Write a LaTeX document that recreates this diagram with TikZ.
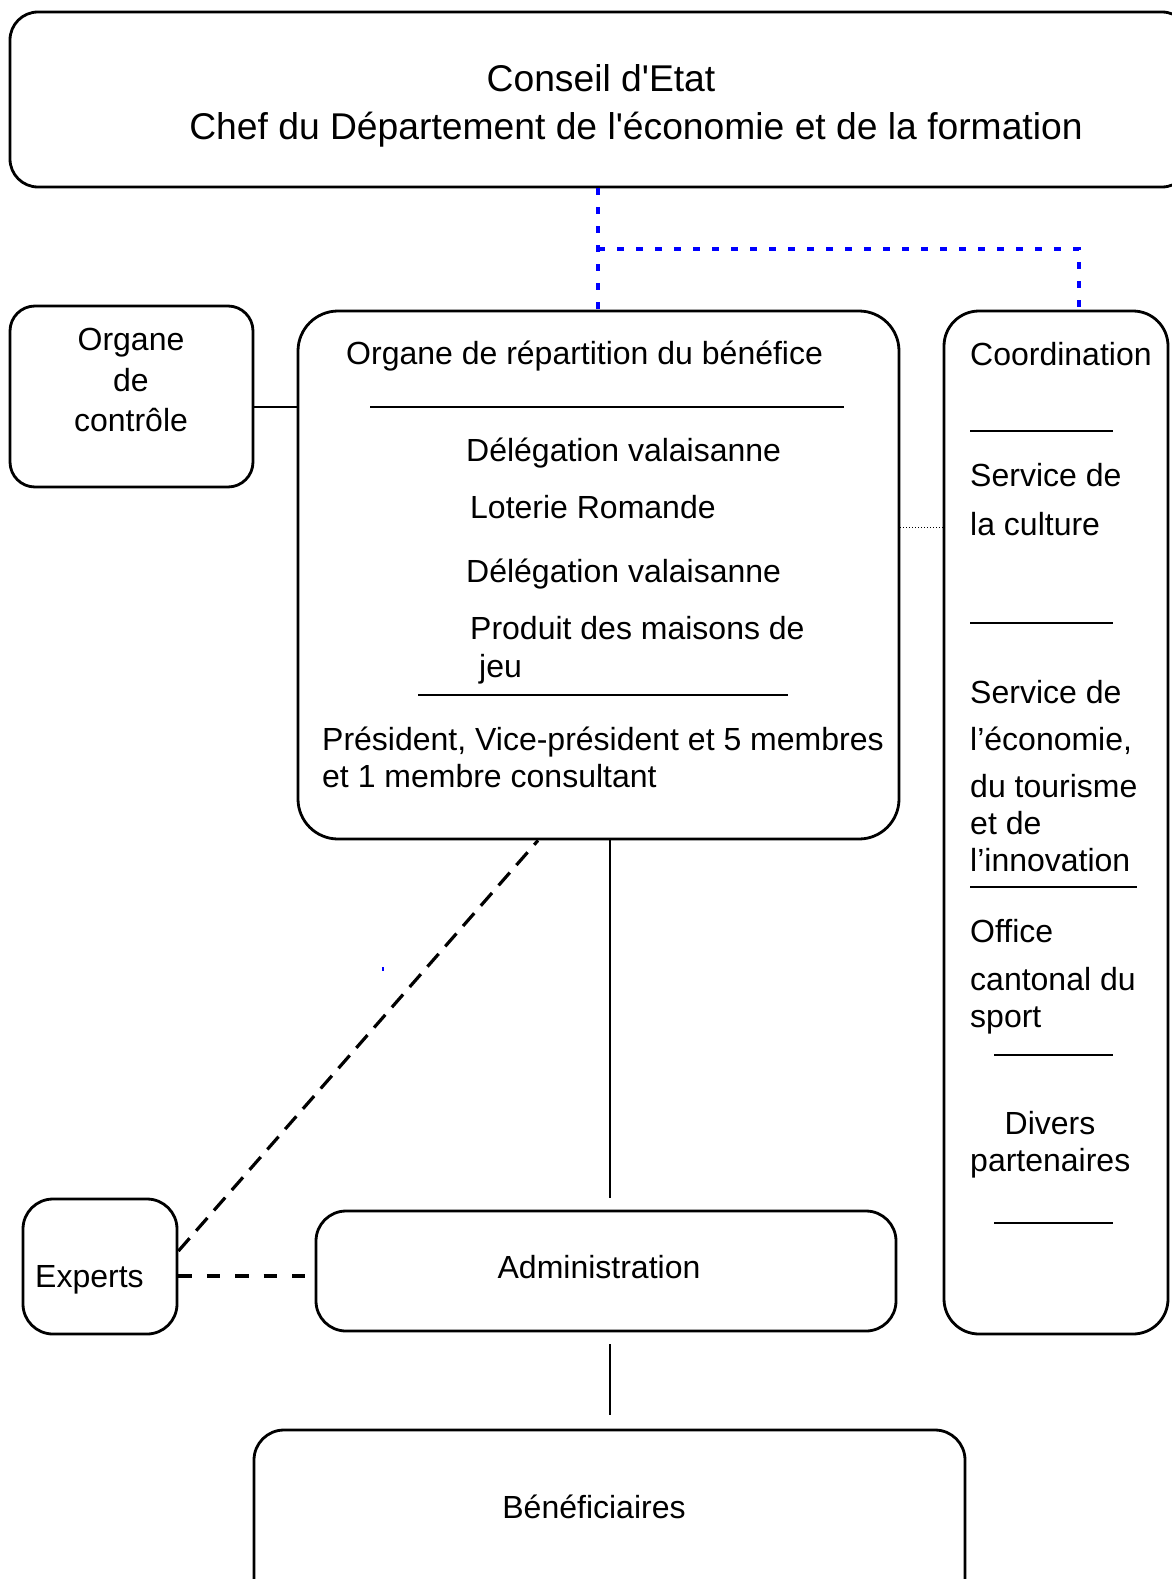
\documentclass[tikz,border=0pt]{standalone}
\usepackage{fontspec}
\setmainfont{Liberation Sans}
\begin{document}
\begin{tikzpicture}[x=1pt,y=-1pt,
  box/.style={draw=black,line width=2.8pt,inner sep=0pt,rectangle},
  txt/.style={inner sep=0pt,font=\fontsize{32}{36}\selectfont},
  bigtxt/.style={inner sep=0pt,font=\fontsize{37.25}{42}\selectfont},
  sep/.style={line width=1.4pt},
  blueline/.style={draw={rgb,255:red,0;green,0;blue,255},line width=4pt,dash pattern=on 7pt off 12pt},
  blackdash/.style={line width=3.2pt,dash pattern=on 17pt off 10pt},
  hdash/.style={line width=3.2pt,dash pattern=on 13.5pt off 14.9pt},
  solidcon/.style={line width=2.8pt}]
\useasboundingbox (0,0) rectangle (1172,1579);
\fill[white] (0,0) rectangle (1172,1579);
% boxes
\node[box,rounded corners=28pt,minimum width=1180pt,minimum height=175pt] (top) at (600,99.5) {};
\node[box,rounded corners=25pt,minimum width=243pt,minimum height=181pt] (ctrl) at (131.5,396.5) {};
\node[box,rounded corners=40pt,minimum width=601pt,minimum height=528pt] (rep) at (598.5,575) {};
\node[box,rounded corners=35pt,minimum width=224pt,minimum height=1023pt] (coord) at (1056,822.5) {};
\node[box,rounded corners=30pt,minimum width=154pt,minimum height=135pt] (exp) at (100,1266.5) {};
\node[box,rounded corners=30pt,minimum width=580pt,minimum height=120pt] (adm) at (606,1271) {};
\node[box,rounded corners=30pt,minimum width=711pt,minimum height=180pt] (ben) at (609.5,1520) {};
% top texts
\node[bigtxt,anchor=base] (t1) at (601,91) {Conseil d\textquotesingle Etat};
\node[bigtxt,anchor=base] (t2) at (636,139) {Chef du Département de l\textquotesingle économie et de la formation};
% organe de controle
\node[txt,anchor=base] (c1) at (131,350) {Organe};
\node[txt,anchor=base] (c2) at (131,391) {de};
\node[txt,anchor=base] (c3) at (131,431) {contrôle};
% main box
\node[txt,anchor=base west] (r1) at (346,364) {Organe de répartition du bénéfice};
\node[txt,anchor=base west] (r2) at (466,461) {Délégation valaisanne};
\node[txt,anchor=base west] (r3) at (470,518) {Loterie Romande};
\node[txt,anchor=base west] (r4) at (466,582) {Délégation valaisanne};
\node[txt,anchor=base west] (r5) at (470,639) {Produit des maisons de};
\node[txt,anchor=base west] (r6) at (479,677) {jeu};
\node[txt,anchor=base west] (r7) at (322,750) {Président, Vice-président et 5 membres};
\node[txt,anchor=base west] (r8) at (322,787) {et 1 membre consultant};
\draw[sep] (370,407) -- (844,407);
\draw[sep] (418,695) -- (788,695);
% coordination
\node[txt,anchor=base west] (k1) at (970,365) {Coordination};
\node[txt,anchor=base west] (k2) at (970,486) {Service de};
\node[txt,anchor=base west] (k3) at (970,535) {la culture};
\node[txt,anchor=base west] (k4) at (970,703) {Service de};
\node[txt,anchor=base west] (k5) at (970,750) {l’économie,};
\node[txt,anchor=base west] (k6) at (970,797) {du tourisme};
\node[txt,anchor=base west] (k7) at (970,834) {et de};
\node[txt,anchor=base west] (k8) at (970,871) {l’innovation};
\node[txt,anchor=base west] (k9) at (970,942) {Office};
\node[txt,anchor=base west] (k10) at (970,990) {cantonal du};
\node[txt,anchor=base west] (k11) at (970,1027) {sport};
\node[txt,anchor=base] (k12) at (1050,1134) {Divers};
\node[txt,anchor=base west] (k13) at (970,1171) {partenaires};
\draw[sep] (970,431) -- (1113,431);
\draw[sep] (970,623) -- (1113,623);
\draw[sep] (970,887) -- (1137,887);
\draw[sep] (994,1055) -- (1113,1055);
\draw[sep] (994,1223) -- (1113,1223);
% other texts
\node[txt,anchor=base west] (e1) at (35,1287) {Experts};
\node[txt,anchor=base] (a1) at (599,1278) {Administration};
\node[txt,anchor=base] (b1) at (594,1518) {Bénéficiaires};
% connectors
\coordinate (bj) at (598,249);
\coordinate (bk) at (1079,249);
\draw[blueline] (top.south -| bj) -- (rep.north -| bj);
\draw[blueline] (bj) -- (bk) -- (coord.north -| bk);
\draw[solidcon] (ctrl.east |- 0,407) -- (rep.west |- 0,407);
\draw[line width=1pt,dash pattern=on 1pt off 2pt] (rep.east |- 0,527.5) -- (coord.west |- 0,527.5);
\draw[blackdash] (exp.east |- 0,1251) -- (rep.south -| 538,0);
\coordinate (ee) at (305,1276);
\draw[hdash] (exp.east |- ee) -- (ee);
\coordinate (v1) at (610,1198);
\draw[solidcon] (rep.south -| v1) -- (v1);
\coordinate (v2) at (610,1344);
\coordinate (v3) at (610,1415);
\draw[solidcon] (v2) -- (v3);
\fill[blue] (382,967) rectangle (383.5,971);
\end{tikzpicture}
\end{document}
